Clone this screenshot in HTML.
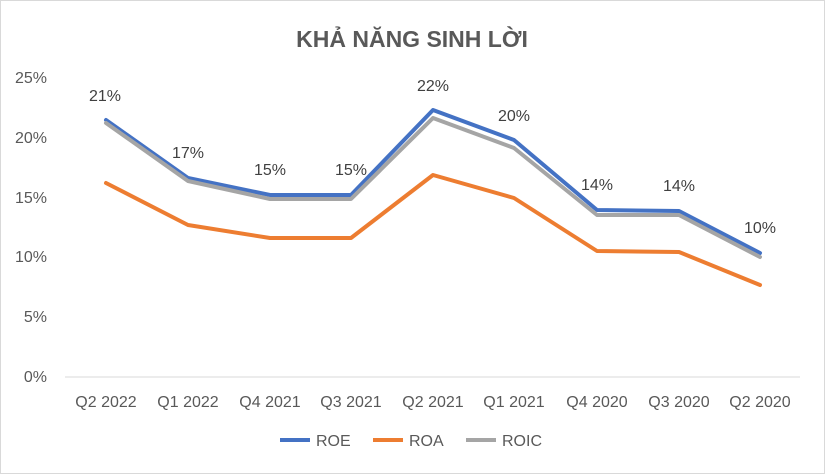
<!DOCTYPE html>
<html><head><meta charset="utf-8"><style>
body{margin:0;background:#fff}
svg{display:block;font-family:"Liberation Sans",Arial,sans-serif}
</style></head><body>
<svg width="825" height="474" viewBox="0 0 825 474">
<rect x="0.5" y="0.5" width="824" height="473" fill="#fff" stroke="#d9d9d9"/>
<text x="412" y="47" text-anchor="middle" font-size="23" font-weight="bold" fill="#595959">KHẢ NĂNG SINH LỜI</text>
<g font-size="16" fill="#595959" text-anchor="end">
<text x="47" y="83">25%</text><text x="47" y="143">20%</text><text x="47" y="203">15%</text>
<text x="47" y="262">10%</text><text x="47" y="322">5%</text><text x="47" y="382">0%</text>
</g>
<line x1="65" y1="377" x2="800" y2="377" stroke="#d9d9d9"/>
<g font-size="16" fill="#595959" text-anchor="middle">
<text x="106" y="407">Q2 2022</text><text x="188" y="407">Q1 2022</text><text x="270" y="407">Q4 2021</text>
<text x="351" y="407">Q3 2021</text><text x="433" y="407">Q2 2021</text><text x="514" y="407">Q1 2021</text>
<text x="597" y="407">Q4 2020</text><text x="679" y="407">Q3 2020</text><text x="760" y="407">Q2 2020</text>
</g>
<g fill="none" stroke-width="4" stroke-linejoin="round" stroke-linecap="round">
<polyline stroke="#ed7d31" points="106,183 188,225 270,238 351,238 433,175 514,198 597,251 679,252 760,285"/>
<polyline stroke="#4472c4" points="106,120 188,178 270,195 351,195 433,110 514,140 597,210 679,211 760,253"/>
<polyline stroke="#a5a5a5" points="106,123 188,181 270,199 351,199 433,118 514,148 597,215 679,215 760,257"/>
</g>
<g font-size="16" fill="#404040" text-anchor="middle">
<text x="105" y="101">21%</text><text x="188" y="158">17%</text><text x="270" y="175">15%</text>
<text x="351" y="175">15%</text><text x="433" y="91">22%</text><text x="514" y="121">20%</text>
<text x="597" y="190">14%</text><text x="679" y="191">14%</text><text x="760" y="233">10%</text>
</g>
<g font-size="16" fill="#595959">
<line x1="280" y1="440" x2="310" y2="440" stroke="#4472c4" stroke-width="4"/><text x="316" y="446">ROE</text>
<line x1="373" y1="440" x2="403" y2="440" stroke="#ed7d31" stroke-width="4"/><text x="409" y="446">ROA</text>
<line x1="466" y1="440" x2="496" y2="440" stroke="#a5a5a5" stroke-width="4"/><text x="502" y="446">ROIC</text>
</g>
</svg>
</body></html>
